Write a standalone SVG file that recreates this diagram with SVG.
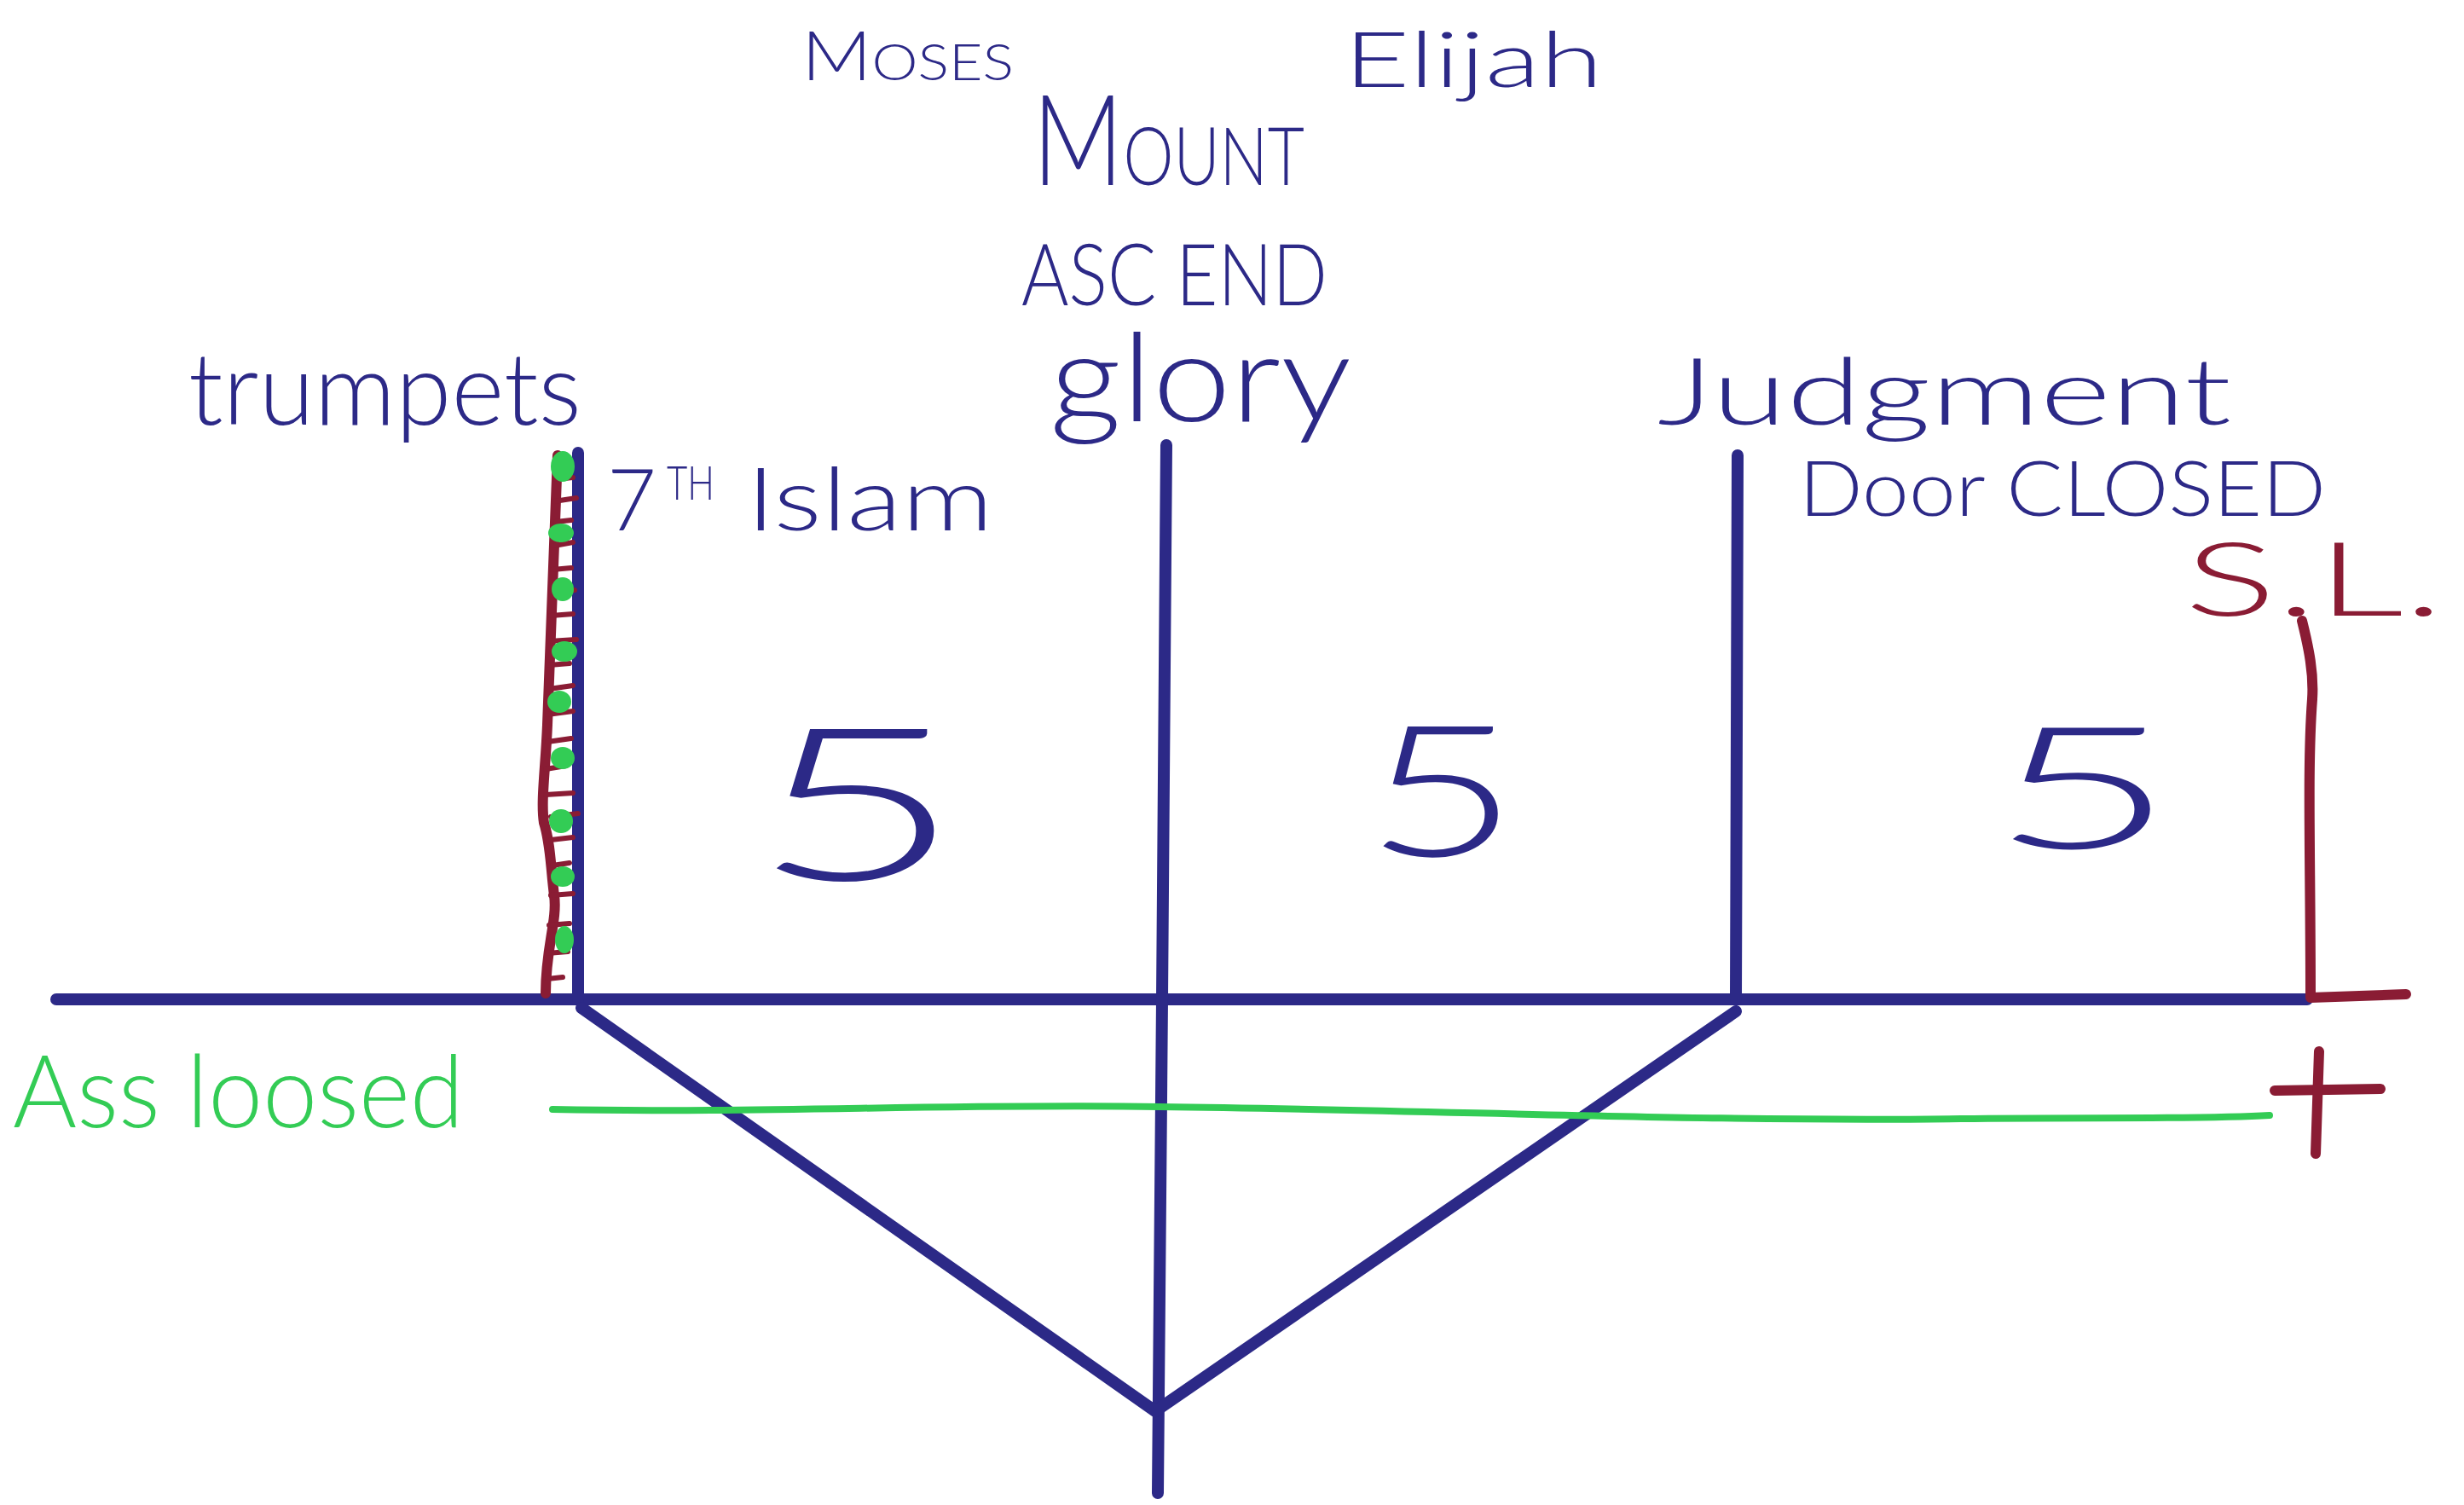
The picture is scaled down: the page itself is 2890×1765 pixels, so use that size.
<svg xmlns="http://www.w3.org/2000/svg" width="2890" height="1765" viewBox="0 0 2890 1765">
<style>
.blue{fill:none;stroke:#2c2987;stroke-width:14;stroke-linecap:round;stroke-linejoin:round}
.maroon{fill:none;stroke:#8a1c34;stroke-width:12;stroke-linecap:round;stroke-linejoin:round}
.tick{fill:none;stroke:#8a1c34;stroke-width:6;stroke-linecap:round}
.green{fill:none;stroke:#33cc55;stroke-width:8;stroke-linecap:round}
.blob{fill:#33cc55}
.tb{fill:#2c2987;font-family:Lato,"Liberation Sans",Arial,sans-serif;font-weight:300}
.tm{fill:#8a1c34;font-family:Lato,"Liberation Sans",Arial,sans-serif;font-weight:300}
.tg{fill:#33cc55;font-family:Lato,"Liberation Sans",Arial,sans-serif;font-weight:300}
.five{fill:#2c2987;font-family:Lato,"Liberation Sans",Arial,sans-serif;font-weight:300}
</style>
<rect width="2890" height="1765" fill="#ffffff"/>
<g id="connectors">
<path class="blue" d="M66 1172 L2706 1172"/>
<path class="blue" d="M678 531 L678 1172"/>
<path class="blue" d="M1368 522 L1363 1172 L1358 1751"/>
<path class="blue" d="M2038 534 L2036 1172"/>
<path class="blue" d="M682 1182 L1355 1655 L2036 1186"/>
<path class="green" d="M648 1301 C900 1306 1100 1294 1360 1298 C1700 1302 2000 1316 2300 1312 C2450 1310 2580 1313 2662 1308"/>
</g>
<g id="ladder">
<path class="maroon" d="M654 534 C650 640 646 740 642 850 C640 900 634 940 638 965 C646 990 646 1020 650 1050 C654 1080 640 1110 640 1165"/>
<g class="tick">
<path d="M652 562 L672 560"/><path d="M650 588 L676 584"/><path d="M652 612 L670 610"/>
<path d="M650 640 L672 636"/><path d="M648 668 L670 666"/><path d="M648 695 L674 692"/>
<path d="M646 722 L672 720"/><path d="M644 752 L676 750"/><path d="M644 780 L668 778"/>
<path d="M644 808 L672 804"/><path d="M642 838 L672 834"/><path d="M642 870 L670 866"/>
<path d="M640 902 L664 898"/><path d="M640 932 L672 930"/><path d="M646 958 L678 954"/>
<path d="M646 985 L672 982"/><path d="M648 1015 L668 1012"/><path d="M646 1050 L672 1048"/>
<path d="M644 1085 L668 1083"/><path d="M642 1118 L666 1116"/><path d="M642 1148 L660 1146"/>
</g>
<g class="blob">
<ellipse cx="660" cy="547" rx="14" ry="18"/><ellipse cx="658" cy="625" rx="15" ry="11"/>
<ellipse cx="660" cy="691" rx="13" ry="14"/><ellipse cx="662" cy="764" rx="15" ry="12"/>
<ellipse cx="656" cy="823" rx="14" ry="13"/><ellipse cx="660" cy="889" rx="14" ry="13"/>
<ellipse cx="658" cy="963" rx="14" ry="14"/><ellipse cx="660" cy="1028" rx="14" ry="12"/>
<ellipse cx="662" cy="1102" rx="11" ry="16"/>
</g>
</g>
<g id="sl-bracket">
<path class="maroon" d="M2700 728 C2708 760 2714 790 2712 820 C2706 900 2710 1000 2710 1170 L2822 1166"/>
<path class="maroon" d="M2668 1279 L2792 1277"/>
<path class="maroon" d="M2720 1233 L2716 1353"/>
</g>
<g id="labels">
<text class="tb" x="940" y="94" font-size="80" textLength="249" lengthAdjust="spacingAndGlyphs">M<tspan font-size="60">OSES</tspan></text>
<text class="tb" x="1576" y="102" font-size="90" textLength="304" lengthAdjust="spacingAndGlyphs">Elijah</text>
<text class="tb" x="1211" y="217" font-size="148" textLength="319" lengthAdjust="spacingAndGlyphs">M<tspan font-size="94">OUNT</tspan></text>
<text class="tb" x="1198" y="358" font-size="100" textLength="359" lengthAdjust="spacingAndGlyphs">ASC END</text>
<text class="tb" x="1231" y="494" font-size="145" textLength="354" lengthAdjust="spacingAndGlyphs">glory</text>
<text class="tb" x="221" y="498" font-size="118" textLength="461" lengthAdjust="spacingAndGlyphs">trumpets</text>
<text class="tb" x="712" y="622" font-size="100">7<tspan x="782" y="586" font-size="56" textLength="56" lengthAdjust="spacingAndGlyphs">TH</tspan><tspan x="875" y="622" font-size="102" textLength="290" lengthAdjust="spacingAndGlyphs">Islam</tspan></text>
<text class="tb" x="1944" y="498" font-size="108" textLength="673" lengthAdjust="spacingAndGlyphs">Judgment</text>
<text class="tb" x="2110" y="605" font-size="90" textLength="618" lengthAdjust="spacingAndGlyphs">Door CLOSED</text>
<text class="tm" x="2562" y="722" font-size="120" textLength="304" lengthAdjust="spacingAndGlyphs">S.L.</text>
<text class="five" x="880" y="1032" font-size="250" textLength="250" lengthAdjust="spacingAndGlyphs">5</text>
<text class="five" x="1600" y="1004" font-size="215" textLength="182" lengthAdjust="spacingAndGlyphs">5</text>
<text class="five" x="2334" y="995" font-size="200" textLength="218" lengthAdjust="spacingAndGlyphs">5</text>
<text class="tg" x="15" y="1322" font-size="118" textLength="529" lengthAdjust="spacingAndGlyphs">Ass loosed</text>
</g>
</svg>
